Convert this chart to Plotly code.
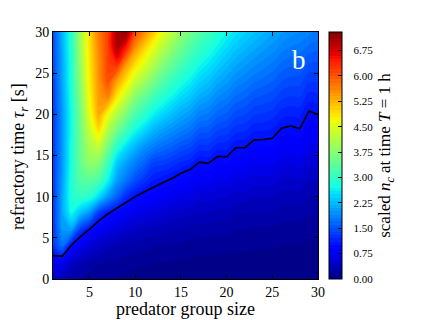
import plotly.graph_objects as go

SERIF = "Liberation Serif, Times New Roman, serif"

# predator group size (x) and refractory time tau_r in s (y)
group_size = list(range(1, 31))
refractory = list(range(0, 31, 2))

# scaled n_c, one column per group size (values at tau_r = 0, 2, ..., 30)
nc_columns = [
    [0.45, 0.74, 1.25, 1.27, 1.28, 1.28, 1.29, 1.30, 1.30, 1.30, 1.30, 1.33, 1.37, 1.40, 1.42, 1.45],
    [0.35, 0.72, 1.70, 2.00, 2.10, 2.10, 2.05, 2.00, 2.00, 2.00, 2.00, 2.05, 2.10, 2.10, 2.15, 2.20],
    [0.24, 0.45, 0.97, 2.05, 2.70, 2.85, 2.85, 2.80, 2.80, 2.75, 2.75, 2.80, 2.85, 2.85, 2.90, 2.90],
    [0.19, 0.34, 0.70, 1.30, 2.30, 3.00, 3.30, 3.45, 3.50, 3.55, 3.60, 3.70, 3.80, 3.90, 3.95, 4.00],
    [0.15, 0.27, 0.55, 0.98, 1.95, 2.90, 3.35, 3.80, 4.05, 4.30, 4.55, 4.70, 4.80, 4.85, 4.90, 4.95],
    [0.12, 0.21, 0.44, 0.78, 1.30, 2.50, 3.20, 3.70, 4.25, 4.90, 5.35, 5.45, 5.50, 5.55, 5.60, 5.70],
    [0.10, 0.18, 0.36, 0.65, 1.03, 2.00, 2.70, 3.10, 3.60, 4.10, 4.70, 5.60, 6.05, 6.15, 6.15, 6.15],
    [0.09, 0.16, 0.32, 0.57, 0.89, 1.60, 2.05, 2.35, 2.90, 3.55, 4.10, 4.80, 5.40, 6.30, 7.00, 7.05],
    [0.08, 0.14, 0.28, 0.49, 0.78, 1.20, 1.75, 2.05, 2.50, 3.10, 3.65, 4.25, 4.85, 5.45, 6.40, 7.25],
    [0.07, 0.12, 0.25, 0.44, 0.69, 1.00, 1.45, 1.80, 2.20, 2.70, 3.20, 3.70, 4.30, 4.90, 5.50, 6.10],
    [0.065, 0.11, 0.23, 0.40, 0.63, 0.91, 1.25, 1.60, 1.95, 2.45, 2.95, 3.40, 3.95, 4.50, 5.00, 5.60],
    [0.06, 0.10, 0.21, 0.37, 0.57, 0.83, 1.10, 1.35, 1.80, 2.20, 2.65, 3.10, 3.60, 4.10, 4.55, 5.10],
    [0.055, 0.10, 0.19, 0.34, 0.53, 0.77, 1.03, 1.33, 1.68, 2.05, 2.45, 2.86, 3.28, 3.71, 4.15, 4.60],
    [0.05, 0.09, 0.18, 0.31, 0.49, 0.72, 0.97, 1.26, 1.59, 1.93, 2.29, 2.66, 3.04, 3.42, 3.81, 4.20],
    [0.05, 0.08, 0.17, 0.29, 0.45, 0.65, 0.89, 1.17, 1.48, 1.81, 2.14, 2.47, 2.81, 3.16, 3.50, 3.85],
    [0.045, 0.08, 0.16, 0.27, 0.43, 0.62, 0.84, 1.11, 1.41, 1.72, 2.02, 2.33, 2.63, 2.94, 3.24, 3.55],
    [0.045, 0.07, 0.14, 0.25, 0.39, 0.55, 0.75, 0.97, 1.26, 1.55, 1.84, 2.14, 2.43, 2.72, 3.01, 3.30],
    [0.04, 0.07, 0.14, 0.25, 0.39, 0.56, 0.76, 0.99, 1.26, 1.52, 1.78, 2.05, 2.31, 2.57, 2.84, 3.10],
    [0.04, 0.07, 0.13, 0.23, 0.35, 0.51, 0.69, 0.90, 1.14, 1.39, 1.64, 1.89, 2.14, 2.40, 2.65, 2.90],
    [0.04, 0.07, 0.13, 0.23, 0.36, 0.51, 0.69, 0.90, 1.13, 1.35, 1.58, 1.80, 2.03, 2.25, 2.48, 2.70],
    [0.035, 0.06, 0.12, 0.20, 0.31, 0.45, 0.61, 0.80, 1.01, 1.23, 1.45, 1.67, 1.89, 2.11, 2.33, 2.55],
    [0.035, 0.06, 0.12, 0.20, 0.31, 0.45, 0.61, 0.80, 1.01, 1.21, 1.41, 1.61, 1.81, 2.02, 2.22, 2.42],
    [0.035, 0.06, 0.11, 0.18, 0.29, 0.41, 0.56, 0.72, 0.91, 1.11, 1.31, 1.51, 1.72, 1.92, 2.12, 2.32],
    [0.035, 0.06, 0.11, 0.18, 0.29, 0.41, 0.55, 0.72, 0.90, 1.10, 1.29, 1.47, 1.66, 1.85, 2.03, 2.22],
    [0.035, 0.06, 0.11, 0.18, 0.28, 0.40, 0.55, 0.71, 0.89, 1.08, 1.25, 1.43, 1.60, 1.77, 1.95, 2.12],
    [0.03, 0.05, 0.09, 0.16, 0.25, 0.36, 0.48, 0.63, 0.79, 0.97, 1.15, 1.32, 1.50, 1.67, 1.85, 2.02],
    [0.03, 0.05, 0.09, 0.16, 0.24, 0.35, 0.47, 0.61, 0.77, 0.94, 1.12, 1.28, 1.45, 1.62, 1.78, 1.95],
    [0.03, 0.05, 0.09, 0.16, 0.25, 0.36, 0.49, 0.63, 0.80, 0.98, 1.13, 1.29, 1.44, 1.59, 1.75, 1.90],
    [0.03, 0.04, 0.08, 0.14, 0.21, 0.30, 0.40, 0.52, 0.66, 0.80, 0.97, 1.14, 1.31, 1.48, 1.66, 1.83],
    [0.03, 0.05, 0.08, 0.14, 0.22, 0.31, 0.42, 0.54, 0.68, 0.83, 1.00, 1.16, 1.31, 1.47, 1.62, 1.78],
]

# black threshold line (scaled n_c = 1)
threshold_tau = [2.85, 2.75, 4.1, 5.15, 6.05, 7.05, 7.9, 8.6, 9.35, 10.0,
                 10.6, 11.2, 11.7, 12.2, 12.85, 13.3, 14.2, 14.05, 14.9, 14.85,
                 15.95, 15.95, 16.9, 16.95, 17.1, 18.3, 18.6, 18.25, 20.4, 20.0]

x_ticks = [5, 10, 15, 20, 25, 30]
y_ticks = [0, 5, 10, 15, 20, 25, 30]
cbar_ticks = [0.00, 0.75, 1.50, 2.25, 3.00, 3.75, 4.50, 5.25, 6.00, 6.75]

z = [list(row) for row in zip(*nc_columns)]

jet = [
    [0.0, "rgb(0,0,128)"], [0.11, "rgb(0,0,255)"], [0.125, "rgb(0,0,255)"],
    [0.34, "rgb(0,219,255)"], [0.35, "rgb(0,230,247)"], [0.375, "rgb(21,255,226)"],
    [0.64, "rgb(239,255,8)"], [0.65, "rgb(247,245,0)"], [0.66, "rgb(255,236,0)"],
    [0.89, "rgb(255,19,0)"], [0.91, "rgb(232,0,0)"], [1.0, "rgb(128,0,0)"],
]

NBSP = "\u00a0"

fig = go.Figure()
fig.add_trace(go.Contour(
    x=group_size, y=refractory, z=z,
    colorscale=jet, zmin=0, zmax=7.3,
    autocontour=False,
    contours=dict(start=0, end=7.3, size=0.1, coloring="fill", showlines=False),
    line=dict(width=0),
    colorbar=dict(
        thickness=13, thicknessmode="pixels",
        len=1, lenmode="fraction", y=0.5, yanchor="middle",
        x=1.0426, xanchor="left", xpad=0, ypad=0,
        outlinewidth=1, outlinecolor="black",
        tickmode="array", tickvals=cbar_ticks,
        ticktext=[NBSP * 3 + f"{v:.2f}" for v in cbar_ticks],
        ticks="inside", ticklen=4, tickcolor="black",
        tickfont=dict(family=SERIF, size=11, color="black"),
        title=dict(text="scaled <i>n</i><sub><i>c</i></sub> at time <i>T</i> = 1 h",
                   side="right", font=dict(family=SERIF, size=17, color="black")),
    ),
    hoverinfo="skip",
))
fig.add_trace(go.Scatter(
    x=group_size, y=threshold_tau, mode="lines",
    line=dict(color="black", width=1.6), showlegend=False, hoverinfo="skip",
))

fig.add_annotation(x=27.9, y=26.6, xref="x", yref="y", text="b", showarrow=False,
                   font=dict(family=SERIF, size=27, color="white"))
fig.add_annotation(x=0.5, y=-0.122, xref="paper", yref="paper", text="predator group size",
                   showarrow=False, xanchor="center", yanchor="middle",
                   font=dict(family=SERIF, size=18, color="black"))
fig.add_annotation(x=-0.124, y=0.494, xref="paper", yref="paper",
                   text="refractory time <i>τ<sub>r</sub></i> [s]", textangle=-90,
                   showarrow=False, xanchor="center", yanchor="middle",
                   font=dict(family=SERIF, size=18, color="black"))

# the page adds an 8 px body margin, so the figure is 8 px smaller and margins shifted
fig.update_layout(
    width=419, height=312,
    margin=dict(l=45, r=109, t=24, b=41, pad=0, autoexpand=False),
    paper_bgcolor="white", plot_bgcolor="white",
    font=dict(family=SERIF, color="black"),
    showlegend=False,
    xaxis=dict(range=[1, 30], tickmode="array", tickvals=x_ticks,
               ticks="inside", ticklen=4, tickcolor="black",
               showline=True, linecolor="black", linewidth=1, mirror="ticks",
               showgrid=False, zeroline=False, automargin=False,
               tickfont=dict(family=SERIF, size=14)),
    yaxis=dict(range=[0, 30], tickmode="array", tickvals=y_ticks,
               ticks="inside", ticklen=4, tickcolor="black",
               showline=True, linecolor="black", linewidth=1, mirror="ticks",
               showgrid=False, zeroline=False, automargin=False,
               tickfont=dict(family=SERIF, size=14)),
)

fig.write_html("out.html")
